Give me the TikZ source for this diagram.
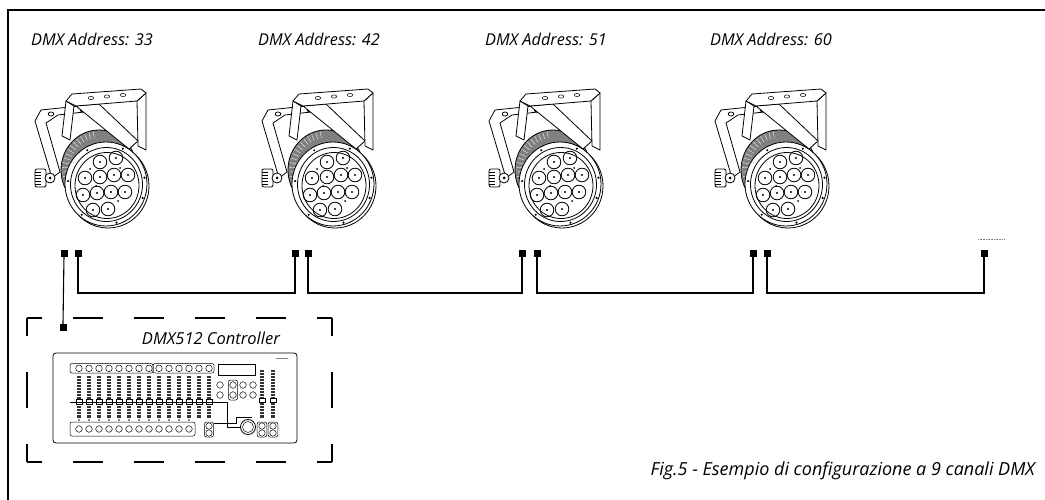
\documentclass[tikz,border=0pt]{standalone}
\usepackage{fontspec}
\setmainfont{Open Sans}
\usetikzlibrary{calc}
\tikzset{
  lbl/.style={font=\itshape\fontsize{16.3}{18}\selectfont, inner sep=0pt, anchor=base west},
  big/.style={font=\itshape\fontsize{16.5}{18}\selectfont, inner sep=0pt},
  capt/.style={font=\itshape\fontsize{18}{20}\selectfont, inner sep=0pt},
  jack/.style={fill=black, draw=black, minimum size=5.5pt, inner sep=0pt},
  cable/.style={line width=1.1pt},
  ol/.style={line width=0.8pt, line join=round},
  thin/.style={line width=0.5pt, line join=round},
  frameline/.style={line width=1.4pt},
  dbox/.style={line width=1.2pt},
  fixture/.pic={
    % rear mounting plate
    \filldraw[ol, fill=white] (35,121) -- (41,110) -- (99,104) -- (101,110) -- (58,115) -- (46,123) -- (60,172) -- (52,178) -- cycle;
    \draw[ol] (51,114) ellipse (2.8 and 2);
    \draw[ol] (83,110) ellipse (2.8 and 2);
    % heatsink
    \filldraw[ol, fill=black!50] (99,170) ellipse (38 and 40);
    \foreach \a in {100,107,...,265} \draw[white, line width=0.35pt] ($(99,170)+(\a:30 and 32)$) -- ($(99,170)+(\a:37 and 39)$);
    % yoke
    \filldraw[ol, fill=white] (66,101) -- (74,106) -- (70,140) -- (62,136) -- cycle;
    \filldraw[ol, fill=white] (76,106) -- (99,104) -- (138,141) -- (129,149) -- cycle;
    \filldraw[ol, fill=white] (137,101) -- (146,93) -- (146,150) -- (138,146) -- cycle;
    \filldraw[ol, fill=white] (66,101) -- (72,94) -- (141,89) -- (146,93) -- (137,101) -- (76,106) -- cycle;
    \foreach \h in {(91,98),(107,96.5),(123,95)} \draw[thin] \h ellipse (2.8 and 1.6);
    % knob
    \filldraw[ol, fill=white, rounded corners=2pt] (35,169) rectangle (46,187);
    \foreach \y in {172,175,...,185} \draw[thin] (35,\y) -- (41,\y);
    \filldraw[ol, fill=white] (50,178) circle (5);
    \fill (50,178) circle (1.5);
    % bezel
    \filldraw[ol, fill=white] (108,186) ellipse (41 and 42);
    \filldraw[ol, fill=white] (106,184) ellipse (41 and 42);
    \draw[ol] (106.5,184.5) ellipse (36 and 37);
    \draw[ol] (107,185.5) ellipse (32 and 33);
    \foreach \a in {20,75,130,185,240,295,350} \fill ($(106.5,184.5)+(\a:38.5 and 39.5)$) circle (1.2);
    \foreach \p in {(120,168),(96,186),(118,201),(90,169)} \fill \p circle (1);
    % LEDs
    \foreach \p in {(100,162),(116,158),(85,178),(100,177),(114,175),(128,175),(83,195),(97,193),(111,192),(125,192),(93,210),(108,209)}{
      \draw[ol] \p circle (6.8);
      \fill \p circle (1.2);
    }
  }
}
\begin{document}
\begin{tikzpicture}[x=1pt,y=-1pt]
\useasboundingbox (0,0) rectangle (1045,500);
% outer frame
\draw[frameline] (8,501) -- (8,10) -- (1046,10);

% labels
\node[lbl] (l1) at (31,46) {DMX Address: 33};
\node[lbl] (l2) at (258,46) {DMX Address: 42};
\node[lbl] (l3) at (485,46) {DMX Address: 51};
\node[lbl] (l4) at (710,46) {DMX Address: 60};

% fixtures
\pic (f1) at (0,0) {fixture};
\pic (f2) at (227,0) {fixture};
\pic (f3) at (454,0) {fixture};
\pic (f4) at (680,0) {fixture};

% jacks
\node[jack] (a1) at (64,253) {};
\node[jack] (b1) at (78,253) {};
\node[jack] (a2) at (295,253) {};
\node[jack] (b2) at (308,253) {};
\node[jack] (a3) at (522,253) {};
\node[jack] (b3) at (537,253) {};
\node[jack] (a4) at (753,253) {};
\node[jack] (b4) at (767,253) {};
\node[jack] (a5) at (984,253) {};
\node[jack] (cc) at (63,327) {};
\coordinate (bus) at (0,293);
\coordinate (more) at (991,239);

\draw[cable] (b1.south) -- (b1.south |- bus) -- (a2.south |- bus) -- (a2.south);
\draw[cable] (b2.south) -- (b2.south |- bus) -- (a3.south |- bus) -- (a3.south);
\draw[cable] (b3.south) -- (b3.south |- bus) -- (a4.south |- bus) -- (a4.south);
\draw[cable] (b4.south) -- (b4.south |- bus) -- (a5.south |- bus) -- (a5.south);
\draw[cable] (a1.south) -- (cc.north);
\draw[gray, line width=1pt, dash pattern=on 1pt off 0.6pt] ($(more)+(-13,0)$) -- ($(more)+(13,0)$);

% dashed controller box
\draw[dbox, dash pattern=on 30.5pt off 30.5pt, dash phase=15.25pt] (27,318) -- (332,318);
\draw[dbox, dash pattern=on 30.5pt off 30.5pt, dash phase=15.25pt] (27,462) -- (332,462);
\draw[dbox, dash pattern=on 36pt off 36pt, dash phase=18pt] (27,318) -- (27,462);
\draw[dbox, dash pattern=on 36pt off 36pt, dash phase=18pt] (332,318) -- (332,462);
\node[big, anchor=base east] (ctl) at (280,344) {DMX512 Controller};

% console
\node[draw, ol, rounded corners=3pt, minimum width=244pt, minimum height=90pt, inner sep=0pt] (console) at (175,398) {};
\draw[thin, rounded corners=2pt] (70,363.5) rectangle (153,373);
\draw[thin, rounded corners=2pt] (153,363.5) rectangle (214,373);
\foreach \i in {0,...,13} {
  \pgfmathsetmacro{\xx}{79+10*\i}
  \draw[thin] (\xx,368.3) circle (3.3);
  \fill[black!80] (\xx-2.4,376) rectangle (\xx+2.4,418);
  \foreach \y in {378,381,...,416} \draw[white, line width=0.35pt] (\xx-2.4,\y) -- (\xx+2.4,\y);
  \filldraw[fill=white, draw=black, line width=0.4pt] (\xx-3,399.5) rectangle (\xx+3,404);
}
\draw[thin] (70,402) -- (223,402);
\draw[thin, rounded corners=2pt] (70,422) rectangle (195,436);
\foreach \i in {0,...,11} {
  \pgfmathsetmacro{\xx}{79+10*\i}
  \draw[thin] (\xx,429) circle (3.3);
  \fill (\xx,420) circle (0.8);
}
% display
\draw[thin] (218,364) rectangle (255,375);
\draw[black!50, line width=0.8pt] (276,358) -- (288,358);
% buttons
\draw[thin] (220,385) circle (3.3);
\draw[thin] (220,395) circle (3.3);
\draw[thin, rounded corners=2pt] (228.5,380) rectangle (237.5,400);
\draw[thin] (233,385) circle (3.3);
\draw[thin] (233,395) circle (3.3);
\foreach \p in {(243,385),(253,385),(243,395),(253,395)} \draw[thin] \p circle (3.3);
% master faders
\foreach \xx in {262,273} {
  \fill[black!80] (\xx-2.4,370) rectangle (\xx+2.4,418);
  \foreach \y in {372,375,...,416} \draw[white, line width=0.35pt] (\xx-2.4,\y) -- (\xx+2.4,\y);
  \filldraw[fill=white, draw=black, line width=0.4pt] (\xx-3,398) rectangle (\xx+3,402.5);
  \draw[thin, rounded corners=2pt] (\xx-4.8,422) rectangle (\xx+4.8,437);
  \draw[thin] (\xx,426) circle (3.2);
  \draw[thin] (\xx,433) circle (3.2);
}
% single fader buttons
\draw[thin, rounded corners=2pt] (204.5,422) rectangle (213.5,437);
\draw[thin] (209,426) circle (3.2);
\draw[thin] (209,433) circle (3.2);
% jog wheel and wiring
\draw[ol] (248,427) circle (7.5);
\draw[thin] (248,427) circle (5.5);
\draw[thin] (223,402) -- (227,402) -- (227,427) -- (240,427);
\draw[thin] (214,423) -- (236,423) -- (236,417) -- (252,417);

% caption
\node[capt, anchor=base east] (cap) at (1035,475) {Fig.5 - Esempio di configurazione a 9 canali DMX};
\end{tikzpicture}
\end{document}
